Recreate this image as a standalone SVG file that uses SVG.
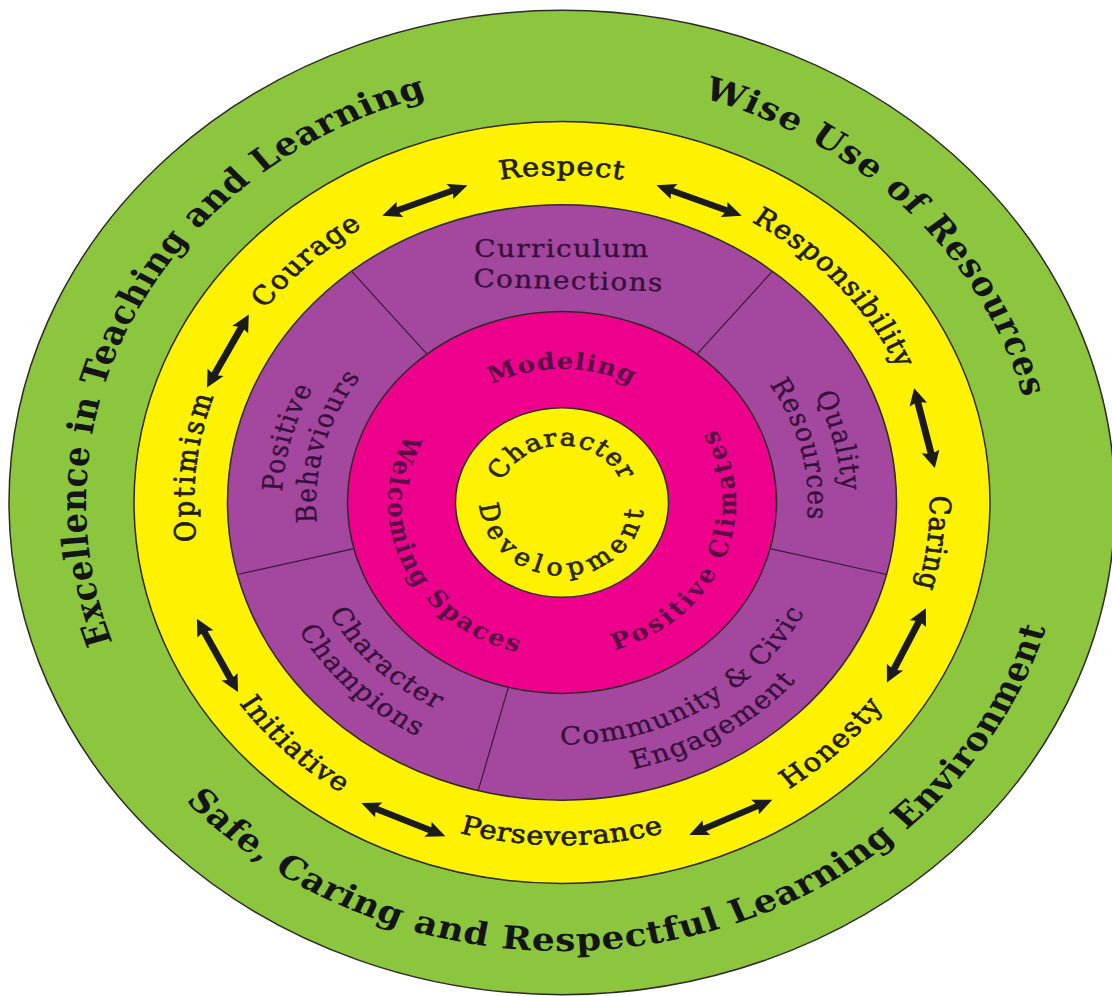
<svg xmlns="http://www.w3.org/2000/svg" width="1112" height="996" viewBox="0 0 1112 996">
<style>
.ring{stroke:#2f2a26;stroke-width:1.5;vector-effect:non-scaling-stroke}
.div{stroke:#3a1a3a;stroke-width:1.2;vector-effect:non-scaling-stroke;fill:none}
text{font-family:"DejaVu Serif","Liberation Serif",serif;text-anchor:middle}
.outer{font-size:36px;font-weight:bold;fill:#141414}
.val{font-size:29px;fill:#231f10;stroke:#231f10;stroke-width:0.8}
.sec{font-size:28px;fill:#351038;stroke:#351038;stroke-width:0.35}
.mag{font-size:26px;font-weight:bold;fill:#5b0d45}
.core{font-size:27px;fill:#2c2710;stroke:#2c2710;stroke-width:0.8}
.arrow{fill:#1b1b1b}
</style>
<defs>
<path id="cw476" d="M0,476 A476,476 0 0 1 0,-476 A476,476 0 0 1 0,476"/>
<path id="ccw504" d="M0,-504 A504,504 0 0 0 0,504 A504,504 0 0 0 0,-504"/>
<path id="cw368" d="M0,368 A368,368 0 0 1 0,-368 A368,368 0 0 1 0,368"/>
<path id="ccw385" d="M0,-385 A385,385 0 0 0 0,385 A385,385 0 0 0 0,-385"/>
<path id="ccw394" d="M0,-394 A394,394 0 0 0 0,394 A394,394 0 0 0 0,-394"/>
<path id="cw280" d="M0,280 A280,280 0 0 1 0,-280 A280,280 0 0 1 0,280"/>
<path id="cw246" d="M0,246 A246,246 0 0 1 0,-246 A246,246 0 0 1 0,246"/>
<path id="ccw264" d="M0,-264 A264,264 0 0 0 0,264 A264,264 0 0 0 0,-264"/>
<path id="ccw300" d="M0,-300 A300,300 0 0 0 0,300 A300,300 0 0 0 0,-300"/>
<path id="ccw272" d="M0,-272 A272,272 0 0 0 0,272 A272,272 0 0 0 0,-272"/>
<path id="ccw308" d="M0,-308 A308,308 0 0 0 0,308 A308,308 0 0 0 0,-308"/>
<path id="cw150" d="M0,150 A150,150 0 0 1 0,-150 A150,150 0 0 1 0,150"/>
<path id="ccw174" d="M0,-174 A174,174 0 0 0 0,174 A174,174 0 0 0 0,-174"/>
<path id="cw64" d="M0,64 A64,64 0 0 1 0,-64 A64,64 0 0 1 0,64"/>
<path id="ccw82" d="M0,-82 A82,82 0 0 0 0,82 A82,82 0 0 0 0,-82"/>
<polygon id="arr" points="-46,0 -27,-9 -29,-3.5 29,-3.5 27,-9 46,0 27,9 29,3.5 -29,3.5 -27,9"/>
</defs>
<rect width="1112" height="996" fill="#ffffff"/>
<g transform="translate(562 502.5) scale(1 0.89)">
<g id="outer-ring">
<circle r="553" fill="#8CC63F" class="ring"/>
<text class="outer" transform="rotate(-62.85)" letter-spacing="0.8"><textPath href="#cw476" startOffset="50%">Excellence in Teaching and Learning</textPath></text>
<text class="outer" transform="rotate(46.5)" letter-spacing="1.5"><textPath href="#cw476" startOffset="50%">Wise Use of Resources</textPath></text>
<text class="outer" transform="rotate(-12.75)" letter-spacing="0.9"><textPath href="#ccw504" startOffset="50%">Safe, Caring and Respectful Learning Environment</textPath></text>
</g>
<g id="values-ring">
<circle r="428" fill="#FFF200" class="ring"/>
<text class="val" letter-spacing="1"><textPath href="#cw368" startOffset="50%">Respect</textPath></text>
<text class="val" transform="rotate(-43.2)" letter-spacing="1.5"><textPath href="#cw368" startOffset="50%">Courage</textPath></text>
<text class="val" transform="rotate(48.5)" letter-spacing="1.3"><textPath href="#cw368" startOffset="50%">Responsibility</textPath></text>
<text class="val" transform="rotate(97)" letter-spacing="1"><textPath href="#cw368" startOffset="50%">Caring</textPath></text>
<text class="val" transform="rotate(-83.7)" letter-spacing="3.2"><textPath href="#cw368" startOffset="50%">Optimism</textPath></text>
<text class="val" transform="rotate(-45)" letter-spacing="2"><textPath href="#ccw394" startOffset="50%">Honesty</textPath></text>
<text class="val" letter-spacing="0.8"><textPath href="#ccw385" startOffset="50%">Perseverance</textPath></text>
<text class="val" transform="rotate(44.5)" letter-spacing="1.3"><textPath href="#ccw394" startOffset="50%">Initiative</textPath></text>
</g>
<g id="practices-ring">
<circle r="334.5" fill="#A3479F" class="ring"/>
<line class="div" x1="-135" y1="-166.7" x2="-210.5" y2="-259.9"/>
<line class="div" x1="135" y1="-166.7" x2="210.5" y2="-259.9"/>
<line class="div" x1="208.1" y1="51.9" x2="324.6" y2="80.9"/>
<line class="div" x1="-208.1" y1="51.9" x2="-324.6" y2="80.9"/>
<line class="div" x1="-53.7" y1="207.7" x2="-83.8" y2="323.8"/>
<text class="sec" x="0" y="-276" letter-spacing="1.3">Curriculum</text>
<text class="sec" x="0" y="-240" letter-spacing="1.3" transform="rotate(1.5)">Connections</text>
<text class="sec" transform="rotate(-75)" letter-spacing="1.5"><textPath href="#cw280" startOffset="50%">Positive</textPath></text>
<text class="sec" transform="rotate(-75)" letter-spacing="1.5"><textPath href="#cw246" startOffset="50%">Behaviours</textPath></text>
<text class="sec" transform="rotate(76)" letter-spacing="1.5"><textPath href="#cw280" startOffset="50%">Quality</textPath></text>
<text class="sec" transform="rotate(76)" letter-spacing="1.5"><textPath href="#cw246" startOffset="50%">Resources</textPath></text>
<text class="sec" transform="rotate(45)" letter-spacing="1.5"><textPath href="#ccw264" startOffset="50%">Character</textPath></text>
<text class="sec" transform="rotate(45)" letter-spacing="1.5"><textPath href="#ccw300" startOffset="50%">Champions</textPath></text>
<text class="sec" transform="rotate(-31.5)" letter-spacing="1.5"><textPath href="#ccw272" startOffset="50%">Community &amp; Civic</textPath></text>
<text class="sec" transform="rotate(-31.5)" letter-spacing="1.5"><textPath href="#ccw308" startOffset="50%">Engagement</textPath></text>
</g>
<g id="environment-ring">
<circle r="214.5" fill="#EC008C" class="ring"/>
<text class="mag" letter-spacing="1"><textPath href="#cw150" startOffset="50%">Modeling</textPath></text>
<text class="mag" transform="rotate(65)" letter-spacing="2.4"><textPath href="#ccw174" startOffset="50%">Welcoming Spaces</textPath></text>
<text class="mag" transform="rotate(-68.5)" letter-spacing="3.4"><textPath href="#ccw174" startOffset="50%">Positive Climates</textPath></text>
</g>
<g id="core">
<circle r="106.5" fill="#FFF200" class="ring"/>
<text class="core" letter-spacing="1.5"><textPath href="#cw64" startOffset="50%">Character</textPath></text>
<text class="core" letter-spacing="6.5"><textPath href="#ccw82" startOffset="50%">Development</textPath></text>
</g>
<g id="connectors" class="arrow">
<use href="#arr" transform="rotate(248) translate(366 0) rotate(90)"/>
<use href="#arr" transform="rotate(292) translate(366 0) rotate(90)"/>
<use href="#arr" transform="rotate(347) translate(372 0) rotate(90)"/>
<use href="#arr" transform="rotate(25) translate(380 0) rotate(90)"/>
<use href="#arr" transform="rotate(64.5) translate(392 0) rotate(90)"/>
<use href="#arr" transform="rotate(114) translate(390 0) rotate(90)"/>
<use href="#arr" transform="rotate(153.5) translate(385 0) rotate(90)"/>
<use href="#arr" transform="rotate(207) translate(375 0) rotate(90)"/>
</g>
</g>
</svg>
